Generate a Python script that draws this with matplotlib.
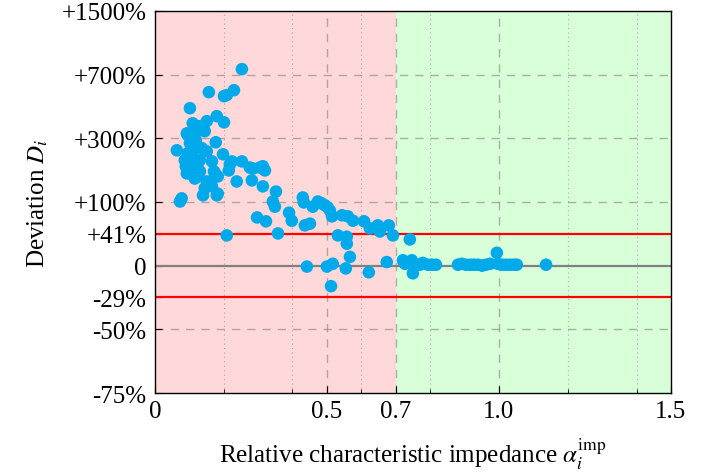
import numpy as np
import matplotlib.pyplot as plt
from matplotlib.ticker import FixedLocator

plt.rcParams['font.family'] = ['Liberation Serif', 'DejaVu Serif']
plt.rcParams['mathtext.fontset'] = 'stix'

# relative characteristic impedance and deviation (percent)
alpha = [0.253, 0.230, 0.209, 0.201, 0.157, 0.102, 0.180, 0.201, 0.151, 0.110,
         0.128, 0.125, 0.145, 0.096, 0.093, 0.122, 0.177, 0.064, 0.137, 0.110,
         0.151, 0.198, 0.087, 0.131, 0.102, 0.166, 0.224, 0.253, 0.110, 0.218,
         0.276, 0.305, 0.314, 0.285, 0.320, 0.125, 0.102, 0.172, 0.093, 0.131,
         0.175, 0.215, 0.183, 0.116, 0.151, 0.238, 0.282, 0.166, 0.314, 0.352,
         0.183, 0.140, 0.180, 0.078, 0.073, 0.343, 0.349, 0.297, 0.323, 0.390,
         0.398, 0.430, 0.433, 0.459, 0.474, 0.485, 0.494, 0.503, 0.509, 0.515,
         0.544, 0.561, 0.576, 0.608, 0.625, 0.648, 0.654, 0.680, 0.692, 0.741,
         0.436, 0.451, 0.209, 0.358, 0.532, 0.558, 0.558, 0.567, 0.555, 0.442,
         0.500, 0.517, 0.512, 0.622, 0.674, 0.721, 0.727, 0.747, 0.750, 0.759,
         0.770, 0.779, 0.794, 0.805, 0.817, 0.881, 0.892, 0.904, 0.916, 0.927,
         0.939, 0.951, 0.962, 0.974, 0.994, 0.997, 1.009, 1.020, 1.032, 1.044,
         1.052, 1.137, 0.102, 0.119, 0.096, 0.090, 0.145, 0.125]
deviation = [749, 575, 540, 533, 561, 455, 409, 376, 382, 371,
             356, 337, 332, 313, 322, 332, 283, 251, 259, 247,
             247, 236, 215, 215, 211, 211, 211, 211, 198, 201,
             191, 191, 195, 188, 182, 188, 179, 179, 173, 179,
             173, 182, 164, 158, 150, 150, 153, 137, 137, 124,
             119, 115, 115, 108, 101, 101, 90, 69, 62, 78,
             63, 110, 99, 90, 101, 97, 93, 88, 82, 71,
             73, 71, 63, 62, 50, 55, 45, 55, 39, 33,
             55, 58, 39, 42, 39, 37, 27, 10, -3, -1,
             -1, 2, -20, -7, 4, 6, 2, 6, -8, 1,
             1, 3, 1, 1, 1, 1, 2, 1, 1, 1,
             1, 0, 1, 2, 15, 2, 1, 1, 1, 1,
             1, 1, 279, 291, 240, 195, 132, 164]

# y axis: log2 of the ratio (1 + D)
y_ticks = [1500, 700, 300, 100, 41.42, 0, -29.29, -50, -75]
y_labels = ['+1500%', '+700%', '+300%', '+100%', '+41%', '0', '-29%', '-50%', '-75%']
x_ticks = [0, 0.5, 0.7, 1.0, 1.5]
x_labels = ['0', '0.5', '0.7', '1.0', '1.5']
limit_hi, limit_lo = 41.42, -29.29
alpha_split = 0.7


def fwd(d):
    return np.log2(1 + np.asarray(d) / 100.0)


def inv(v):
    return (np.power(2.0, v) - 1) * 100.0


fig = plt.figure(figsize=(7.07, 4.77), dpi=100)
ax = fig.add_axes([0.219, 0.174, 0.730, 0.801])
ax.set_yscale('function', functions=(fwd, inv))
ax.set_xlim(0, 1.5)
ax.set_ylim(-75, 1500)

ax.axvspan(0, alpha_split, color='#ffd9d9', lw=0, zorder=0)
ax.axvspan(alpha_split, 1.5, color='#d9ffd9', lw=0, zorder=0)

# grid
for xv in [0.5, 0.7, 1.0]:
    ax.axvline(xv, color='#7f7f7f', alpha=0.6, lw=1.0, ls=(0, (6, 5)), zorder=1)
for xv in [0.2, 0.4, 0.6, 0.8, 1.2, 1.4]:
    ax.axvline(xv, color='#7f7f7f', alpha=0.6, lw=0.8, ls=(0, (1, 3)), zorder=1)
for yv in [700, 300, 100, -50]:
    ax.axhline(yv, color='#7f7f7f', alpha=0.6, lw=1.0, ls=(0, (6, 5)), zorder=1)

ax.axhline(0, color='#808080', lw=1.6, zorder=2)
ax.axhline(limit_hi, color='#ff0000', lw=1.6, zorder=2)
ax.axhline(limit_lo, color='#ff0000', lw=1.6, zorder=2)

ax.scatter(alpha, deviation, s=82, color='#00aaea', edgecolors='none', zorder=3)

ax.yaxis.set_major_locator(FixedLocator(y_ticks))
ax.set_yticklabels(y_labels)
ax.yaxis.set_minor_locator(FixedLocator([]))
ax.set_xticks(x_ticks)
ax.set_xticklabels(x_labels)
ax.xaxis.set_minor_locator(FixedLocator([0.2, 0.4, 0.6, 0.8, 1.2, 1.4]))
ax.tick_params(which='both', direction='in', labelsize=18, top=False, right=False)
ax.tick_params(which='major', length=5, width=0.8)
ax.tick_params(which='minor', length=3, width=0.6)
ax.tick_params(axis='x', pad=5)
ax.tick_params(axis='y', pad=6)

for s in ax.spines.values():
    s.set_linewidth(1.0)
    s.set_zorder(4)

ax.set_ylabel('Deviation $D_i$', fontsize=18, labelpad=8)
ax.set_xlabel(r'Relative characteristic impedance $\alpha_i^{\mathrm{imp}}$',
              fontsize=18, labelpad=10)

fig.savefig('out.png', dpi=100)
